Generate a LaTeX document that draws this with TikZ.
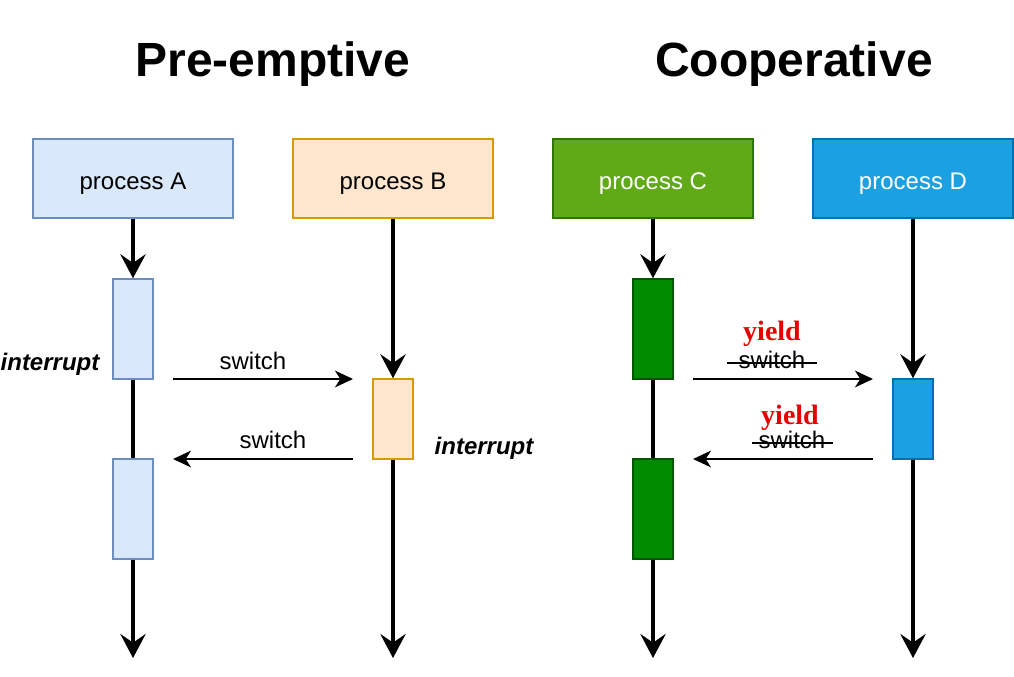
\documentclass[tikz,border=0pt]{standalone}
\usepackage{fontspec}
\setmainfont{Liberation Sans}
\newfontfamily\serifbold{Liberation Serif}
\usetikzlibrary{arrows.meta}
\definecolor{aFill}{HTML}{DAE8FC}\definecolor{aLine}{HTML}{6C8EBF}
\definecolor{bFill}{HTML}{FFE6CC}\definecolor{bLine}{HTML}{D79B00}
\definecolor{cFill}{HTML}{60A917}\definecolor{cLine}{HTML}{2D7600}
\definecolor{cAct}{HTML}{008A00}\definecolor{cActLine}{HTML}{005700}
\definecolor{dFill}{HTML}{1BA1E2}\definecolor{dLine}{HTML}{006EAF}
\definecolor{yieldred}{HTML}{E60000}
\newcommand{\txtsize}{\fontsize{18}{21}\selectfont}
\tikzset{
  procbox/.style={draw, line width=1.1pt, inner sep=0pt, minimum width=150pt, minimum height=59.25pt},
  proctext/.style={font=\txtsize, inner sep=0pt, anchor=base},
  actlong/.style={draw, line width=1.1pt, inner sep=0pt, minimum width=30pt, minimum height=75pt},
  actshort/.style={draw, line width=1.1pt, inner sep=0pt, minimum width=30pt, minimum height=60pt},
  flow/.style={line width=2.6pt, -{Stealth[length=18pt, width=19pt, inset=6.5pt]}},
  flowline/.style={line width=2.6pt},
  sw/.style={line width=1.6pt, -{Stealth[length=13.5pt, width=12.5pt, inset=4pt]}},
  lbl/.style={font=\txtsize, inner sep=0pt, anchor=base},
  intr/.style={font=\txtsize\bfseries\itshape, inner sep=0pt, anchor=base},
  yld/.style={font=\fontsize{21}{24}\selectfont\serifbold\bfseries, text=yieldred, inner sep=0pt, anchor=base},
  title/.style={font=\fontsize{36}{40}\selectfont\bfseries, inner sep=0pt, anchor=base}
}
\begin{document}
\begin{tikzpicture}[x=0.75pt, y=-0.75pt]
\useasboundingbox (0,0) rectangle (1014,676);
% titles
\node[title] (t1) at (273,76) {Pre-emptive};
\node[title] (t2) at (794,76) {Cooperative};
% process boxes
\node[procbox, fill=aFill, draw=aLine] (A) at (133,178.5) {};
\node[procbox, fill=bFill, draw=bLine] (B) at (393,178.5) {};
\node[procbox, fill=cFill, draw=cLine] (C) at (653,178.5) {};
\node[procbox, fill=dFill, draw=dLine] (D) at (913,178.5) {};
\node[proctext] (At) at (133,189) {process A};
\node[proctext] (Bt) at (393,189) {process B};
\node[proctext, text=white] (Ct) at (653,189) {process C};
\node[proctext, text=white] (Dt) at (913,189) {process D};
% activations
\node[actlong, fill=aFill, draw=aLine] (A1) at (133,329) {};
\node[actlong, fill=aFill, draw=aLine] (A2) at (133,509) {};
\node[actshort, fill=bFill, draw=bLine] (B1) at (393,419) {};
\node[actlong, fill=cAct, draw=cActLine] (C1) at (653,329) {};
\node[actlong, fill=cAct, draw=cActLine] (C2) at (653,509) {};
\node[actshort, fill=dFill, draw=dLine] (D1) at (913,419) {};
% ends
\coordinate (Ae) at (133,658);
\coordinate (Be) at (393,658);
\coordinate (Ce) at (653,658);
\coordinate (De) at (913,658);
% vertical flows
\draw[flow] (A) -- (A1);
\draw[flowline] (A1) -- (A2);
\draw[flow] (A2) -- (Ae);
\draw[flow] (B) -- (B1);
\draw[flow] (B1) -- (Be);
\draw[flow] (C) -- (C1);
\draw[flowline] (C1) -- (C2);
\draw[flow] (C2) -- (Ce);
\draw[flow] (D) -- (D1);
\draw[flow] (D1) -- (De);
% switch arrows
\coordinate (s1a) at (173,379); \coordinate (s1b) at (353,379);
\coordinate (s2a) at (353,459); \coordinate (s2b) at (173,459);
\coordinate (s3a) at (693,379); \coordinate (s3b) at (873,379);
\coordinate (s4a) at (873,459); \coordinate (s4b) at (693,459);
\draw[sw] (s1a) -- (s1b);
\draw[sw] (s2a) -- (s2b);
\draw[sw] (s3a) -- (s3b);
\draw[sw] (s4a) -- (s4b);
% labels
\node[lbl] (l1) at (253,369) {switch};
\node[lbl] (l2) at (273,448) {switch};
\node[intr] (i1) at (50,370) {interrupt};
\node[intr] (i2) at (484,454) {interrupt};
\node[yld] (y1) at (772,340) {yield};
\node[yld] (y2) at (790,424) {yield};
\node[lbl] (w1) at (772,368) {switch};
\node[lbl] (w2) at (792,448) {switch};
\coordinate (k1a) at (727,363); \coordinate (k1b) at (817,363);
\coordinate (k2a) at (752,443); \coordinate (k2b) at (833,443);
\draw[line width=1.6pt] (k1a) -- (k1b);
\draw[line width=1.6pt] (k2a) -- (k2b);
\end{tikzpicture}
\end{document}
